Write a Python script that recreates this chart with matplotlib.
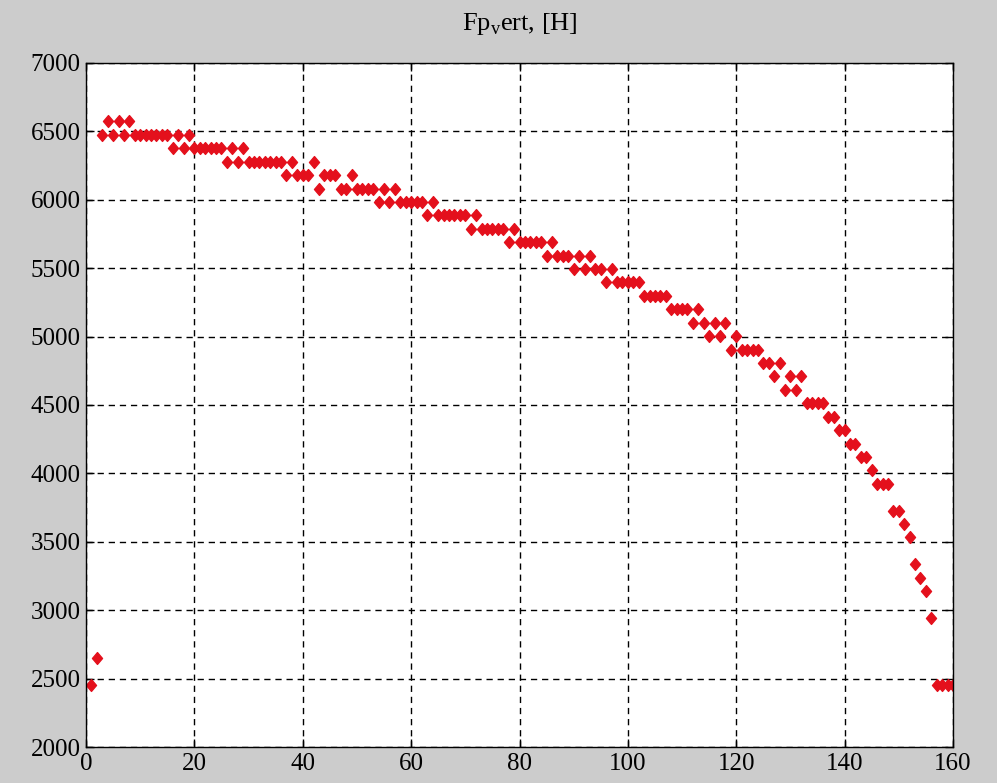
import matplotlib
matplotlib.use("Agg")
import matplotlib.pyplot as plt
from matplotlib.path import Path
import numpy as np

# Sample index (MATLAB 1-based) and vertical force values [H]
x_values = list(range(1, 161))
y_values = (
    [2453, 2649, 6475, 6573, 6475, 6573, 6475, 6573] +
    [6475] * 7 +
    [6377, 6475, 6377, 6475] +
    [6377] * 6 +
    [6278, 6377, 6278, 6377] +
    [6278] * 7 +
    [6180, 6278, 6180, 6180, 6180, 6278, 6082, 6180, 6180, 6180,
     6082, 6082, 6180, 6082, 6082, 6082, 6082, 5984, 6082, 5984, 6082] +
    [5984] * 5 +
    [5886, 5984] +
    [5886] * 6 +
    [5788, 5886] +
    [5788] * 5 +
    [5690, 5788] +
    [5690] * 5 +
    [5592, 5690, 5592, 5592, 5592, 5494, 5592, 5494, 5592, 5494, 5494,
     5396, 5494] +
    [5396] * 5 +
    [5297] * 5 +
    [5199] * 4 +
    [5101, 5199, 5101, 5003, 5101, 5003, 5101, 4905, 5003] +
    [4905] * 4 +
    [4807, 4807, 4709, 4807, 4611, 4709, 4611, 4709] +
    [4513] * 4 +
    [4415, 4415, 4316, 4316, 4218, 4218, 4120, 4120, 4022,
     3924, 3924, 3924, 3728, 3728, 3630, 3532, 3335, 3237, 3139, 2943] +
    [2453] * 4
)

x_ticks = list(range(0, 161, 20))
y_ticks = list(range(2000, 7001, 500))
title_text = r"Fp$_{\mathregular{v}}$ert, [H]"

plt.rcParams['font.family'] = ['Liberation Serif', 'DejaVu Serif']
plt.rcParams['mathtext.fontset'] = 'custom'
plt.rcParams['mathtext.rm'] = 'Liberation Serif'

# slightly tall diamond, like MATLAB's 'd' marker
diamond = Path([(0, 1), (0.85, 0), (0, -1), (-0.85, 0), (0, 1)],
               [Path.MOVETO, Path.LINETO, Path.LINETO, Path.LINETO, Path.CLOSEPOLY])

fig = plt.figure(figsize=(9.97, 7.83), dpi=100, facecolor='#cccccc')
ax = fig.add_axes([86/997, 1 - 747/783, (953-86)/997, (747-63)/783])
ax.set_facecolor('white')

ax.plot(x_values, y_values, linestyle='none', marker=diamond, markersize=8.5,
        markerfacecolor='#e4101c', markeredgecolor='#e4101c', clip_on=True)

ax.set_xlim(0, 160)
ax.set_ylim(2000, 7000)
ax.set_xticks(x_ticks)
ax.set_yticks(y_ticks)
ax.tick_params(direction='in', length=6, width=1, top=True, right=True,
               labelsize=18, colors='black', pad=4)
ax.grid(True, color='black', linestyle=(0, (4.5, 3.5)), linewidth=1)
for s in ax.spines.values():
    s.set_color('black')
    s.set_linewidth(1)

ax.set_title(title_text, fontsize=19, pad=24)

fig.savefig('out.png', dpi=100, facecolor=fig.get_facecolor())
